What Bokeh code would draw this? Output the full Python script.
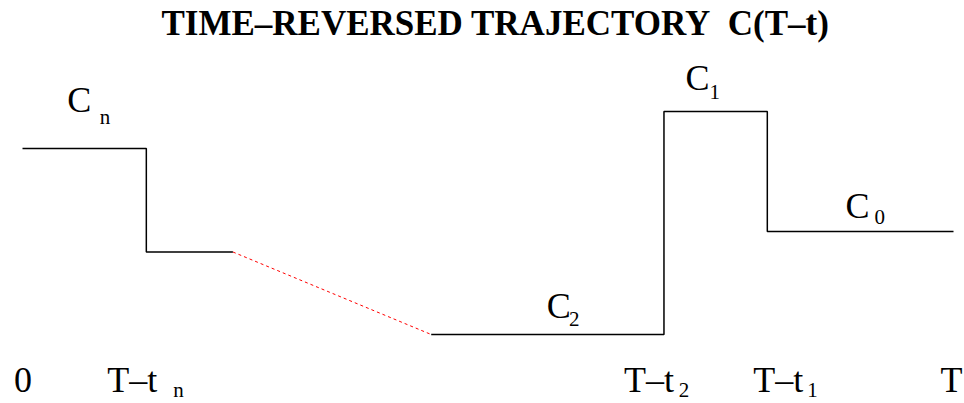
from bokeh.plotting import figure
from bokeh.models import Range1d
from bokeh.core.properties import value
from bokeh.embed import file_html
from bokeh.resources import INLINE

# ---- data (time in units where T = 10, levels in arbitrary concentration units)
t_marks = {"0": 0.0, "T-tn": 1.33, "T-t2": 6.89, "T-t1": 8.0, "T": 10.0}
gap_start = 2.26      # end of known stretch after T-tn
gap_end = 4.39        # start of C2 stretch
c_n = 5.17
c_n1 = 2.85
c_2 = 1.0
c_1 = 6.0
c_0 = 3.31

# black trajectory pieces
seg1_t = [t_marks["0"], t_marks["T-tn"], t_marks["T-tn"], gap_start]
seg1_c = [c_n, c_n, c_n1, c_n1]
dash_t = [gap_start, gap_end]
dash_c = [c_n1, c_2]
seg2_t = [gap_end, t_marks["T-t2"], t_marks["T-t2"], t_marks["T-t1"], t_marks["T-t1"], t_marks["T"]]
seg2_c = [c_2, c_2, c_1, c_1, c_0, c_0]

title_text = "TIME\u2013REVERSED TRAJECTORY\u00a0 C(T\u2013t)"

# level labels (main letter + subscript)
lvl_main = ["C", "C", "C", "C"]
lvl_main_t = [0.48, 7.12, 8.84, 5.63]
lvl_main_c = [5.98, 6.49, 3.62, 1.38]
lvl_sub = ["n", "1", "0", "2"]
lvl_sub_t = [0.83, 7.38, 9.15, 5.87]
lvl_sub_c = [5.73, 6.29, 3.47, 1.18]

# time labels along the bottom
tl_main = ["0", "T\u2013t", "T\u2013t", "T\u2013t", "T"]
tl_main_t = [-0.09, 0.91, 6.46, 7.85, 9.86]
tl_main_c = [-0.30, -0.30, -0.30, -0.30, -0.30]
tl_sub = ["n", "2", "1"]
tl_sub_t = [1.62, 7.05, 8.43]
tl_sub_c = [-0.41, -0.41, -0.41]

W, H = 964, 403
p = figure(width=W, height=H, output_backend="svg", toolbar_location=None,
           x_range=Range1d(-0.2363, 10.118), y_range=Range1d(-0.547, 8.489),
           x_axis_type=None, y_axis_type=None, min_border=0,
           background_fill_color="white", border_fill_color="white")
p.outline_line_color = None
p.xgrid.visible = False
p.ygrid.visible = False

p.line(seg1_t, seg1_c, line_color="black", line_width=1.5)
p.line(seg2_t, seg2_c, line_color="black", line_width=1.5)
p.line(dash_t, dash_c, line_color="red", line_width=1, line_dash="3 3")

serif = value("Liberation Serif")
dy_big = -12  # baseline correction of the svg text renderer (36px text)
dy_sub = -7   # same correction for the 21px subscripts

p.text(x=[5.08], y=[7.70], text=[title_text], text_font=serif, text_font_size="35px",
       text_font_style="bold", text_align="center", text_baseline="alphabetic",
       text_color="black", y_offset=dy_big)

p.text(x=lvl_main_t, y=lvl_main_c, text=lvl_main, text_font=serif, text_font_size="36px",
       text_align="left", text_baseline="alphabetic", text_color="black", y_offset=dy_big)
p.text(x=lvl_sub_t, y=lvl_sub_c, text=lvl_sub, text_font=serif, text_font_size="21px",
       text_align="left", text_baseline="alphabetic", text_color="black", y_offset=dy_sub)

p.text(x=tl_main_t, y=tl_main_c, text=tl_main, text_font=serif, text_font_size="36px",
       text_align="left", text_baseline="alphabetic", text_color="black", y_offset=dy_big)
p.text(x=tl_sub_t, y=tl_sub_c, text=tl_sub, text_font=serif, text_font_size="21px",
       text_align="left", text_baseline="alphabetic", text_color="black", y_offset=dy_sub)

open("out.html", "w").write(file_html(p, INLINE))
